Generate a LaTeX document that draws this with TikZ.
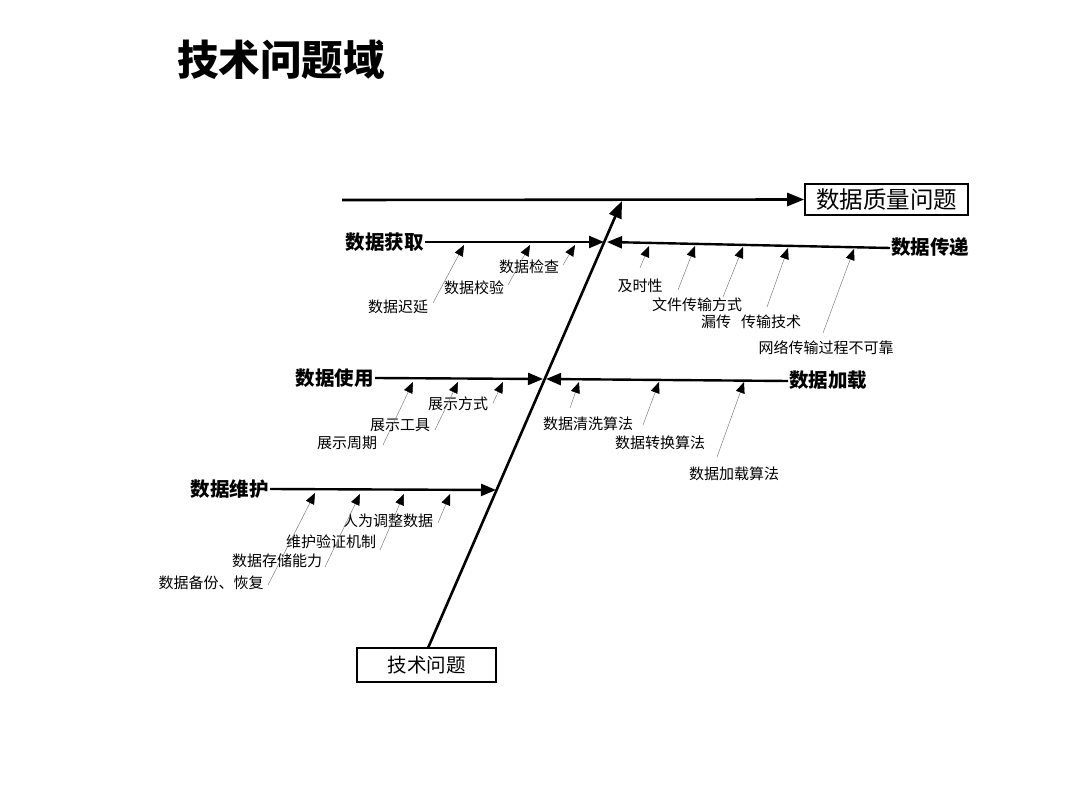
\documentclass[tikz,border=0pt]{standalone}
\usepackage{fontspec}
\newfontfamily\cjk{Noto Sans CJK SC}
\usetikzlibrary{arrows.meta}
\begin{document}
\begin{tikzpicture}[x=1pt,y=-1pt,
  bone/.style={line width=2.4pt,-{Triangle[length=15pt,width=12pt]}},
  spine/.style={line width=2.6pt,-{Triangle[length=17pt,width=13pt]}},
  leader/.style={draw=black!50,line width=0.5pt,-{Triangle[length=11pt,width=9pt,color=black,fill=black]}},
  blabel/.style={font=\cjk\bfseries\fontsize{19.5}{21}\selectfont,inner sep=1pt},
  slabel/.style={font=\cjk\fontsize{15}{17}\selectfont,inner sep=0pt},
  boxed/.style={draw,line width=1.6pt,inner sep=0pt}
]
\useasboundingbox (0,0) rectangle (1080,810);
\fill[white] (0,0) rectangle (1080,810);

% title
\node[font=\cjk\bfseries\fontsize{41.5}{44}\selectfont,anchor=west,inner sep=0pt] (title) at (177,60) {技术问题域};

% head and tail boxes
\node[boxed,minimum width=163pt,minimum height=31pt,font=\cjk\fontsize{23.5}{25}\selectfont] (quality) at (886.5,199.5) {数据质量问题};
\node[boxed,minimum width=139pt,minimum height=34pt,font=\cjk\fontsize{19.5}{21}\selectfont] (tech) at (426.5,665) {技术问题};

% spines
\coordinate (s0) at (342,200);
\draw[spine] (s0) -- (quality.west);
\coordinate (topTip) at (622,201);
\coordinate (techTop) at (428,648);
\draw[spine] (techTop) -- (topTip);

% branch coordinates
\coordinate (acqTip) at (604,242);
\coordinate (traTip) at (607,242);
\coordinate (useTip) at (543,379);
\coordinate (loaTip) at (546,379);
\coordinate (maiTip) at (496,490);

% branch labels and bones
\node[blabel,anchor=east] (acq) at (425,242) {数据获取};
\draw[bone] (acq.east) -- (acqTip);
\node[blabel,anchor=west] (tra) at (890,247) {数据传递};
\coordinate (traStart) at (890,248);
\draw[bone] (traStart) -- (traTip);
\node[blabel,anchor=east] (use) at (375,378) {数据使用};
\draw[bone] (use.east) -- (useTip);
\node[blabel,anchor=west] (loa) at (788,380) {数据加载};
\coordinate (loaStart) at (788,381);
\draw[bone] (loaStart) -- (loaTip);
\node[blabel,anchor=east] (mai) at (270,489) {数据维护};
\draw[bone] (mai.east) -- (maiTip);

% sub labels
\node[slabel] (a1) at (398,307) {数据迟延};
\node[slabel] (a2) at (474,288) {数据校验};
\node[slabel] (a3) at (529,267) {数据检查};
\node[slabel] (t1) at (640,286) {及时性};
\node[slabel] (t2) at (697,305) {文件传输方式};
\node[slabel] (t3) at (716,322) {漏传};
\node[slabel] (t4) at (771,322) {传输技术};
\node[slabel] (t5) at (826,348) {网络传输过程不可靠};
\node[slabel] (u1) at (458,404) {展示方式};
\node[slabel] (u2) at (400,425) {展示工具};
\node[slabel] (u3) at (347,443) {展示周期};
\node[slabel] (l1) at (588,424) {数据清洗算法};
\node[slabel] (l2) at (660,443) {数据转换算法};
\node[slabel] (l3) at (734,474) {数据加载算法};
\node[slabel] (m1) at (388,521) {人为调整数据};
\node[slabel] (m2) at (331,542) {维护验证机制};
\node[slabel] (m3) at (277,561) {数据存储能力};
\node[slabel] (m4) at (211,583) {数据备份、恢复};

% leader coordinates and lines
\coordinate (a1s) at (433,303); \coordinate (a1e) at (464,245);
\coordinate (a2s) at (508,285); \coordinate (a2e) at (530,245);
\coordinate (a3s) at (563,265); \coordinate (a3e) at (575,245);
\draw[leader] (a1s) -- (a1e);
\draw[leader] (a2s) -- (a2e);
\draw[leader] (a3s) -- (a3e);

\coordinate (t1s) at (640,268); \coordinate (t1e) at (649,246);
\coordinate (t2s) at (678,290); \coordinate (t2e) at (695,246);
\coordinate (t3s) at (723,297); \coordinate (t3e) at (743,247);
\coordinate (t4s) at (767,307); \coordinate (t4e) at (788,248);
\coordinate (t5s) at (823,333); \coordinate (t5e) at (854,249);
\draw[leader] (t1s) -- (t1e);
\draw[leader] (t2s) -- (t2e);
\draw[leader] (t3s) -- (t3e);
\draw[leader] (t4s) -- (t4e);
\draw[leader] (t5s) -- (t5e);

\coordinate (u3s) at (383,445); \coordinate (u3e) at (413,382);
\coordinate (u2s) at (435,430); \coordinate (u2e) at (458,382);
\coordinate (u1s) at (493,403); \coordinate (u1e) at (503,382);
\draw[leader] (u3s) -- (u3e);
\draw[leader] (u2s) -- (u2e);
\draw[leader] (u1s) -- (u1e);

\coordinate (l1s) at (570,408); \coordinate (l1e) at (579,382);
\coordinate (l2s) at (643,425); \coordinate (l2e) at (659,382);
\coordinate (l3s) at (717,457); \coordinate (l3e) at (744,382);
\draw[leader] (l1s) -- (l1e);
\draw[leader] (l2s) -- (l2e);
\draw[leader] (l3s) -- (l3e);

\coordinate (m4s) at (268,585); \coordinate (m4e) at (315,493);
\coordinate (m3s) at (325,567); \coordinate (m3e) at (360,494);
\coordinate (m2s) at (380,550); \coordinate (m2e) at (404,494);
\coordinate (m1s) at (438,523); \coordinate (m1e) at (450,494);
\draw[leader] (m4s) -- (m4e);
\draw[leader] (m3s) -- (m3e);
\draw[leader] (m2s) -- (m2e);
\draw[leader] (m1s) -- (m1e);
\end{tikzpicture}
\end{document}
